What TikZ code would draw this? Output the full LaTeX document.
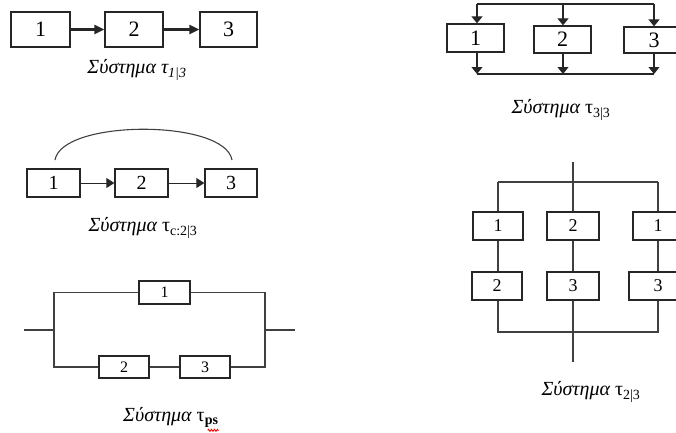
\documentclass[tikz,border=0pt]{standalone}
\usepackage{fontspec}
\setmainfont{Liberation Serif}
\usetikzlibrary{arrows.meta,decorations.pathmorphing}
\tikzset{
  blk/.style={draw=black!85, line width=1.3pt, inner sep=0pt, fill=white},
  wire/.style={draw=black!75, line width=1.3pt},
  flow/.style={draw=black!85, line width=1.1pt, -{Triangle[length=7pt,width=11pt]}},
  caption/.style={inner sep=0pt, font=\fontsize{20}{24}\selectfont},
}
\begin{document}
\begin{tikzpicture}[x=1pt,y=-1pt]
\useasboundingbox (0,0) rectangle (676,432);

% --- series system, 1-out-of-3 ---
\begin{scope}[every node/.append style={font=\fontsize{22}{24}\selectfont}]
\node[blk, minimum width=59pt, minimum height=35pt] (s1) at (40.5,29.5) {1};
\node[blk, minimum width=58pt, minimum height=35pt] (s2) at (134,29.5) {2};
\node[blk, minimum width=57pt, minimum height=35pt] (s3) at (228.5,29.5) {3};
\end{scope}
\draw[flow, line width=2.2pt, -{Triangle[length=10pt,width=9pt]}] (s1) -- (s2);
\draw[flow, line width=2.2pt, -{Triangle[length=10pt,width=9pt]}] (s2) -- (s3);
\node[caption] (cap1) at (137,70) {\itshape Σύστημα τ\textsubscript{1|3}};

% --- consecutive 2-out-of-3 ---
\begin{scope}[every node/.append style={font=\fontsize{20}{22}\selectfont}]
\node[blk, minimum width=53pt, minimum height=28pt] (c1) at (53.5,183) {1};
\node[blk, minimum width=53pt, minimum height=28pt] (c2) at (141.5,183) {2};
\node[blk, minimum width=52pt, minimum height=28pt] (c3) at (231,183) {3};
\end{scope}
\draw[flow, line width=1pt, -{Triangle[length=8pt,width=10pt]}] (c1) -- (c2);
\draw[flow, line width=1pt, -{Triangle[length=8pt,width=10pt]}] (c2) -- (c3);
\coordinate (ca) at (55,160);
\coordinate (cb) at (232,160);
\draw[draw=black!75, line width=1.1pt] (ca) .. controls (62,119) and (225,119) .. (cb);
\node[caption] (cap2) at (143,228) {{\itshape Σύστημα} τ\textsubscript{c:2|3}};

% --- parallel-series system ---
\begin{scope}[every node/.append style={font=\fontsize{16}{18}\selectfont}]
\node[blk, minimum width=51pt, minimum height=23pt] (p1) at (164.5,292.5) {1};
\node[blk, minimum width=50pt, minimum height=22pt] (p2) at (124,367) {2};
\node[blk, minimum width=50pt, minimum height=22pt] (p3) at (205,367) {3};
\end{scope}
\coordinate (plt) at (54,292.5);
\coordinate (plb) at (54,367);
\coordinate (plm) at (54,330);
\coordinate (ple) at (24,330);
\coordinate (prt) at (265,292.5);
\coordinate (prb) at (265,367);
\coordinate (prm) at (265,330);
\coordinate (pre) at (295,330);
\draw[wire] (ple) -- (plm);
\draw[wire] (p1.west) -- (plt) -- (plb) -- (p2.west);
\draw[wire] (p2.east) -- (p3.west);
\draw[wire] (p3.east) -- (prb) -- (prt) -- (p1.east);
\draw[wire] (prm) -- (pre);
\node[caption, anchor=base west] (cap3) at (123,421) {{\itshape Σύστημα} τ\textsubscript{\bfseries ps}};
\draw[red, line width=0.9pt, decorate,
      decoration={zigzag, segment length=3pt, amplitude=1pt}]
  ([xshift=-11pt,yshift=-3pt]cap3.south east) -- ([yshift=-3pt]cap3.south east);

% --- parallel system, 3-out-of-3 ---
\begin{scope}[every node/.append style={font=\fontsize{22}{24}\selectfont}]
\node[blk, minimum width=57pt, minimum height=28pt] (q1) at (475.5,38) {1};
\node[blk, minimum width=57pt, minimum height=27pt] (q2) at (562.5,39.5) {2};
\node[blk, minimum width=60pt, minimum height=26pt] (q3) at (654,40) {3};
\end{scope}
\coordinate (qt1) at (477,4);
\coordinate (qt2) at (563,4);
\coordinate (qt3) at (654,4);
\coordinate (qb1) at (477,74);
\coordinate (qb2) at (563,74);
\coordinate (qb3) at (654,74);
\draw[wire, draw=black!85] (qt1) -- (qt3);
\draw[wire, draw=black!85] (qb1) -- (qb3);
\draw[flow] (qt1) -- (q1.north -| qt1);
\draw[flow] (qt2) -- (q2.north -| qt2);
\draw[flow] (qt3) -- (q3.north -| qt3);
\draw[flow] (q1.south -| qb1) -- (qb1);
\draw[flow] (q2.south -| qb2) -- (qb2);
\draw[flow] (q3.south -| qb3) -- (qb3);
\node[caption] (cap4) at (561,110) {{\itshape Σύστημα} τ\textsubscript{3|3}};

% --- 2-out-of-3 parallel of series pairs ---
\begin{scope}[every node/.append style={font=\fontsize{18}{20}\selectfont}]
\node[blk, minimum width=50pt, minimum height=28pt] (r1) at (498,226) {1};
\node[blk, minimum width=52pt, minimum height=28pt] (r2) at (573,226) {2};
\node[blk, minimum width=50pt, minimum height=28pt] (r3) at (658,226) {1};
\node[blk, minimum width=50pt, minimum height=28pt] (r4) at (497,286) {2};
\node[blk, minimum width=52pt, minimum height=28pt] (r5) at (573,286) {3};
\node[blk, minimum width=58pt, minimum height=28pt] (r6) at (658,286) {3};
\end{scope}
\coordinate (rin) at (573,162);
\coordinate (rtop) at (573,182);
\coordinate (rtl) at (498,182);
\coordinate (rtr) at (658,182);
\coordinate (rbot) at (573,332);
\coordinate (rbl) at (498,332);
\coordinate (rbr) at (658,332);
\coordinate (rout) at (573,362);
\draw[wire] (rin) -- (rtop);
\draw[wire] (rtl) -- (rtr);
\draw[wire] (rtl) -- (r1.north -| rtl);
\draw[wire] (rtop) -- (r2);
\draw[wire] (rtr) -- (r3.north -| rtr);
\draw[wire] (r1.south -| rtl) -- (r4.north -| rtl);
\draw[wire] (r2) -- (r5);
\draw[wire] (r3.south -| rtr) -- (r6.north -| rtr);
\draw[wire] (r4.south -| rbl) -- (rbl) -- (rbr) -- (r6.south -| rbr);
\draw[wire] (r5) -- (rout);
\node[caption] (cap5) at (591,392) {{\itshape Σύστημα} τ\textsubscript{2|3}};
\end{tikzpicture}
\end{document}
